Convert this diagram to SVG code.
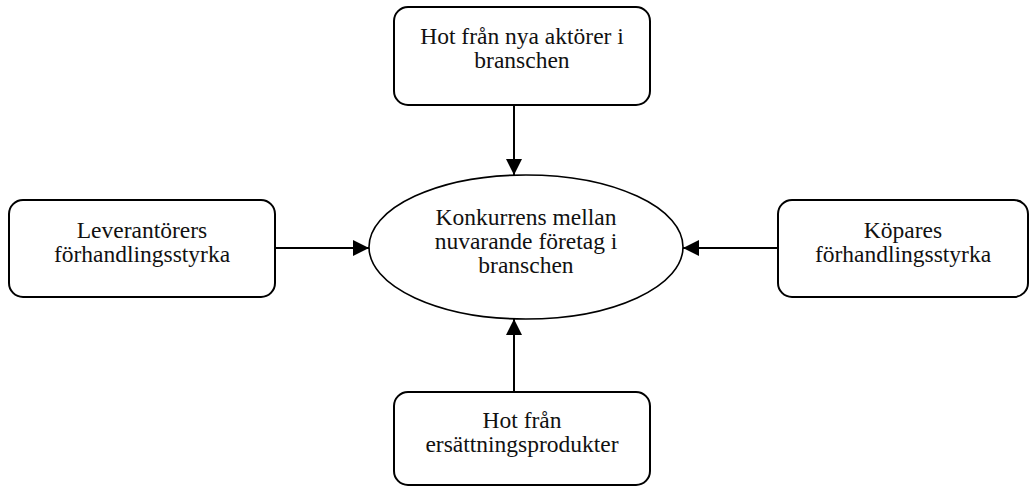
<svg xmlns="http://www.w3.org/2000/svg" width="1030" height="487" viewBox="0 0 1030 487">
<style>
.box{fill:#fff;stroke:#000;stroke-width:2}
.ell{fill:#fff;stroke:#000;stroke-width:1.6}
.t{font-family:"Liberation Serif","Times New Roman",serif;font-size:23.5px;fill:#111;text-anchor:middle}
.c{stroke:#000;stroke-width:2;fill:none}
</style>
<defs>
<marker id="ah" viewBox="0 0 16 16" refX="16" refY="8" markerWidth="16" markerHeight="16" markerUnits="userSpaceOnUse" orient="auto">
<path d="M0,0 L16,8 L0,16 z" fill="#000"/>
</marker>
</defs>
<rect width="1030" height="487" fill="#fff"/>
<g id="connectors">
<line class="c" x1="514" y1="105" x2="514" y2="175" marker-end="url(#ah)"/>
<line class="c" x1="275" y1="248" x2="369" y2="248" marker-end="url(#ah)"/>
<line class="c" x1="778" y1="248" x2="683" y2="248" marker-end="url(#ah)"/>
<line class="c" x1="514" y1="392" x2="514" y2="319" marker-end="url(#ah)"/>
</g>
<g id="center">
<ellipse class="ell" cx="526" cy="247" rx="157" ry="72"/>
<text class="t" x="526" y="225">Konkurrens mellan</text>
<text class="t" x="526" y="249">nuvarande företag i</text>
<text class="t" x="526" y="273">branschen</text>
</g>
<g id="top">
<rect class="box" x="394" y="7" width="256" height="98" rx="14"/>
<text class="t" x="522" y="44">Hot från nya aktörer i</text>
<text class="t" x="522" y="68">branschen</text>
</g>
<g id="left">
<rect class="box" x="9" y="200" width="266" height="97" rx="14"/>
<text class="t" x="142" y="238">Leverantörers</text>
<text class="t" x="142" y="262">förhandlingsstyrka</text>
</g>
<g id="right">
<rect class="box" x="778" y="200" width="250" height="97" rx="14"/>
<text class="t" x="903" y="238">Köpares</text>
<text class="t" x="903" y="262">förhandlingsstyrka</text>
</g>
<g id="bottom">
<rect class="box" x="394" y="392" width="256" height="93" rx="14"/>
<text class="t" x="522" y="428">Hot från</text>
<text class="t" x="522" y="452">ersättningsprodukter</text>
</g>
</svg>
